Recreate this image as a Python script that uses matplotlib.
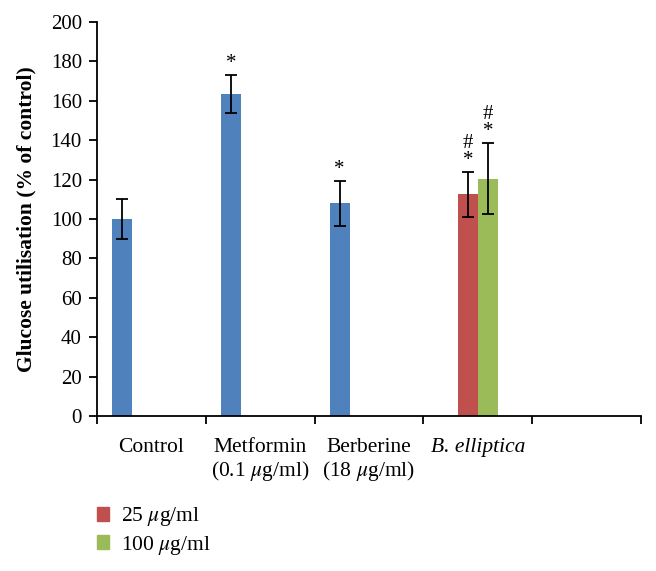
import numpy as np
import matplotlib.pyplot as plt
from matplotlib.patches import Patch

plt.rcParams['font.family'] = ['Liberation Serif', 'DejaVu Serif']
plt.rcParams['mathtext.fontset'] = 'stix'

# data
categories = ['Control', 'Metformin\n(0.1 $\\mu$g/ml)', 'Berberine\n(18 $\\mu$g/ml)', 'B. elliptica', '']
blue_vals = [100, 163.5, 108]
blue_err = [10, 9.5, 11.5]
red_val, red_err = 112.5, 11.6
green_val, green_err = 120.5, 18
blue_marks = ['', '*', '*']
red_mark = '#\n*'
green_mark = '#\n*'

fig = plt.figure(figsize=(6.56, 5.71), dpi=100)
ax = fig.add_axes([0.148, 0.2714, 0.829, 0.69])

w = 20 / 109          # bar width in category units
off = 15 / 109        # gap before first bar in a category
err_kw = dict(ecolor='black', elinewidth=1.3, capsize=4, capthick=1.3)

xb = np.arange(3) + off + w / 2
ax.bar(xb, blue_vals, w, yerr=blue_err, color='#4F81BD', error_kw=err_kw)
xr = 3 + off + w * 1.5
xg = 3 + off + w * 2.5
ax.bar(xr, red_val, w, yerr=red_err, color='#C0504D', error_kw=err_kw)
ax.bar(xg, green_val, w, yerr=green_err, color='#9BBB59', error_kw=err_kw)

mk = dict(ha='center', va='bottom', fontsize=15, linespacing=0.85)
for x, v, e, m in zip(xb, blue_vals, blue_err, blue_marks):
    if m:
        ax.text(x, v + e + 1, m, **mk)
ax.text(xr, red_val + red_err + 1, red_mark, **mk)
ax.text(xg, green_val + green_err + 1, green_mark, **mk)

ax.set_xlim(0, 5)
ax.set_ylim(0, 200)
ax.set_yticks(np.arange(0, 201, 20))
ax.set_xticks(np.arange(6))
ax.set_xticklabels([])
ax.set_xticks(np.arange(5) + 0.5, minor=True)
ax.set_xticklabels(categories, minor=True, fontsize=15.5, linespacing=1.1)
ax.get_xticklabels(minor=True)[3].set_style('italic')
ax.tick_params(axis='x', which='minor', length=0, pad=16)
ax.tick_params(axis='x', which='major', length=6, width=1.3, direction='out')
ax.tick_params(axis='y', length=6, width=1.3, direction='out', labelsize=15, pad=5)

for s in ['top', 'right']:
    ax.spines[s].set_visible(False)
for s in ['left', 'bottom']:
    ax.spines[s].set_linewidth(1.3)

ax.set_ylabel('Glucose utilisation (% of control)', fontsize=15.5, fontweight='bold', labelpad=10)

handles = [Patch(color='#C0504D', label='25 $\\mu$g/ml'),
           Patch(color='#9BBB59', label='100 $\\mu$g/ml')]
fig.legend(handles=handles, loc='upper left', bbox_to_anchor=(0.134, 0.13),
           frameon=False, fontsize=15.5, handlelength=0.6, handleheight=0.6,
           handletextpad=0.55, labelspacing=0.25, borderaxespad=0)

fig.savefig('out.png', dpi=100)
